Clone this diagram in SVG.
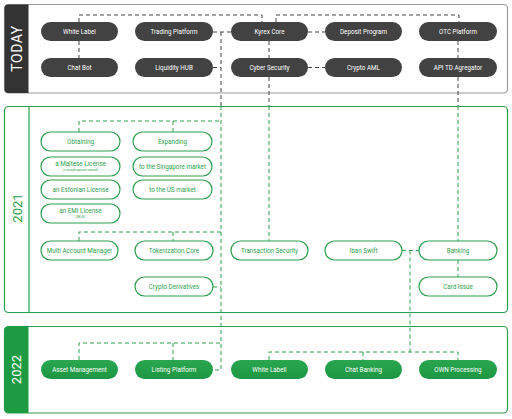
<svg xmlns="http://www.w3.org/2000/svg" width="512" height="419" viewBox="0 0 512 419">
<style>
.lbl{font-family:Roboto,"Liberation Sans",sans-serif;font-size:6.3px;text-anchor:middle;dominant-baseline:central}
.sub{font-size:2.6px}
.dk rect{fill:#424242}
.dk text{fill:#fff}
.gn rect{fill:#fff;stroke:#2e9f4e;stroke-width:1.2}
.gn text{fill:#2e9f4e}
.gf rect{fill:url(#gg)}
.gf text{fill:#fff}
.dg{fill:none;stroke:#444;stroke-width:1;stroke-dasharray:4 3}
.dgr{fill:none;stroke:#2e9f4e;stroke-width:1;stroke-dasharray:4 3}
.big{font-family:Roboto,"Liberation Sans",sans-serif;text-anchor:middle;dominant-baseline:central}
</style>
<defs>
<linearGradient id="gg" x1="0" y1="0" x2="0" y2="1"><stop offset="0" stop-color="#2aa651"/><stop offset="1" stop-color="#1c9641"/></linearGradient>
</defs>
<rect width="512" height="419" fill="#fff"/>
<g id="panels">
<g id="panel-today">
<rect x="4.5" y="4.5" width="503" height="88.5" rx="4" fill="#fff" stroke="#9a9a9a" stroke-width="1.2"/>
<path d="M8.5 4.5 H28.5 V93 H8.5 A4 4 0 0 1 4.5 89 V8.5 A4 4 0 0 1 8.5 4.5 Z" fill="#333"/>
<text class="big" x="16.5" y="48.5" font-size="14" fill="#fff" transform="rotate(-90 16.5 48.5)" letter-spacing="0.5">TODAY</text>
</g>
<g id="panel-2021">
<rect x="4.5" y="106.5" width="503" height="206" rx="4" fill="#fff" stroke="#2e9f4e" stroke-width="1.2"/>
<line x1="29" y1="106.5" x2="29" y2="312.5" stroke="#2e9f4e" stroke-width="1.2"/>
<text class="big" x="17" y="208" font-size="13" fill="#2e9f4e" transform="rotate(-90 17 208)">2021</text>
</g>
<g id="panel-2022">
<rect x="4.5" y="326.5" width="503" height="86.5" rx="4" fill="#fff" stroke="#2e9f4e" stroke-width="1.2"/>
<path d="M8.5 326.5 H28.5 V413 H8.5 A4 4 0 0 1 4.5 409 V330.5 A4 4 0 0 1 8.5 326.5 Z" fill="#1d9b43"/>
<text class="big" x="16.5" y="369.5" font-size="13" fill="#fff" transform="rotate(-90 16.5 369.5)">2022</text>
</g>
</g>
<g id="connectors">
<path class="dg" d="M79 22 V15 H262 V22"/>
<path class="dg" d="M276 22 V15 H459 V22"/>
<path class="dg" d="M79 41 V58"/>
<path class="dg" d="M213 32 H231"/>
<path class="dg" d="M213 67.5 H221"/>
<path class="dg" d="M221 32 V106"/>
<path class="dg" d="M308 32 H325"/>
<path class="dg" d="M308 67.5 H325"/>
<path class="dg" d="M269 41 V58"/>
<path class="dg" d="M269 77 V106"/>
<path class="dg" d="M458 41 V58"/>
<path class="dg" d="M458 77 V106"/>
<path class="dgr" d="M221 106 V370 H213"/>
<path class="dgr" d="M79 132 V121 H221"/>
<path class="dgr" d="M173 121 V132"/>
<path class="dgr" d="M79 241 V232 H221"/>
<path class="dgr" d="M173 232 V241"/>
<path class="dgr" d="M213 287 H221"/>
<path class="dgr" d="M269 106 V241"/>
<path class="dgr" d="M458 106 V241"/>
<path class="dgr" d="M458 260 V277"/>
<path class="dgr" d="M402 250.5 H419"/>
<path class="dgr" d="M410 250.5 V352"/>
<path class="dgr" d="M79 360 V343 H221"/>
<path class="dgr" d="M173 343 V360"/>
<path class="dgr" d="M269 360 V352 H458 V360"/>
<path class="dgr" d="M363 352 V360"/>
</g>
<g id="n-white-label" class="dk"><rect x="41" y="22" width="77" height="19" rx="9.5"/><text class="lbl" x="79.5" y="31.5">White Label</text></g>
<g id="n-trading-platform" class="dk"><rect x="135" y="22" width="78" height="19" rx="9.5"/><text class="lbl" x="174" y="31.5">Trading Platform</text></g>
<g id="n-kyrex-core" class="dk"><rect x="231" y="22" width="77" height="19" rx="9.5"/><text class="lbl" x="269.5" y="31.5">Kyrex Core</text></g>
<g id="n-deposit-program" class="dk"><rect x="325" y="22" width="77" height="19" rx="9.5"/><text class="lbl" x="363.5" y="31.5">Deposit Program</text></g>
<g id="n-otc-platform" class="dk"><rect x="419" y="22" width="78" height="19" rx="9.5"/><text class="lbl" x="458" y="31.5">OTC Platform</text></g>
<g id="n-chat-bot" class="dk"><rect x="41" y="58" width="77" height="19" rx="9.5"/><text class="lbl" x="79.5" y="67.5">Chat Bot</text></g>
<g id="n-liquidity-hub" class="dk"><rect x="135" y="58" width="78" height="19" rx="9.5"/><text class="lbl" x="174" y="67.5">Liquidity HUB</text></g>
<g id="n-cyber-security" class="dk"><rect x="231" y="58" width="77" height="19" rx="9.5"/><text class="lbl" x="269.5" y="67.5">Cyber Security</text></g>
<g id="n-crypto-aml" class="dk"><rect x="325" y="58" width="77" height="19" rx="9.5"/><text class="lbl" x="363.5" y="67.5">Crypto AML</text></g>
<g id="n-api-td" class="dk"><rect x="419" y="58" width="78" height="19" rx="9.5"/><text class="lbl" x="458" y="67.5">API TD Agregator</text></g>
<g id="n-obtaining" class="gn"><rect x="41" y="132" width="79" height="19" rx="9.5"/><text class="lbl" x="80.5" y="141.5">Obtaining</text></g>
<g id="n-maltese" class="gn"><rect x="41" y="157" width="79" height="19" rx="9.5"/><text class="lbl" x="80.5" y="164">a Maltese License</text><text class="lbl sub" x="80.5" y="170">(in principle approval received)</text></g>
<g id="n-estonian" class="gn"><rect x="41" y="180" width="79" height="19" rx="9.5"/><text class="lbl" x="80.5" y="189.5">an Estonian License</text></g>
<g id="n-emi" class="gn"><rect x="41" y="204" width="79" height="19" rx="9.5"/><text class="lbl" x="80.5" y="211">an EMI License</text><text class="lbl sub" x="80.5" y="217">(DBLUK)</text></g>
<g id="n-expanding" class="gn"><rect x="133" y="132" width="79" height="19" rx="9.5"/><text class="lbl" x="172.5" y="141.5">Expanding</text></g>
<g id="n-singapore" class="gn"><rect x="133" y="157" width="79" height="19" rx="9.5"/><text class="lbl" x="172.5" y="166.5">to the Singapore market</text></g>
<g id="n-us" class="gn"><rect x="133" y="180" width="79" height="19" rx="9.5"/><text class="lbl" x="172.5" y="189.5">to the US market</text></g>
<g id="n-multi-account" class="gn"><rect x="41" y="241" width="77" height="19" rx="9.5"/><text class="lbl" x="79.5" y="250.5">Multi Account Manager</text></g>
<g id="n-tokenization" class="gn"><rect x="135" y="241" width="78" height="19" rx="9.5"/><text class="lbl" x="174" y="250.5">Tokenization Core</text></g>
<g id="n-crypto-derivatives" class="gn"><rect x="135" y="277" width="78" height="19" rx="9.5"/><text class="lbl" x="174" y="286.5">Crypto Derivatives</text></g>
<g id="n-transaction-security" class="gn"><rect x="231" y="241" width="77" height="19" rx="9.5"/><text class="lbl" x="269.5" y="250.5">Transaction Security</text></g>
<g id="n-iban-swift" class="gn"><rect x="325" y="241" width="77" height="19" rx="9.5"/><text class="lbl" x="363.5" y="250.5">Iban Swift</text></g>
<g id="n-banking" class="gn"><rect x="419" y="241" width="78" height="19" rx="9.5"/><text class="lbl" x="458" y="250.5">Banking</text></g>
<g id="n-card-issue" class="gn"><rect x="419" y="277" width="78" height="19" rx="9.5"/><text class="lbl" x="458" y="286.5">Card Issue</text></g>
<g id="n-asset-management" class="gf"><rect x="41" y="360" width="77" height="19" rx="9.5"/><text class="lbl" x="79.5" y="369.5">Asset Management</text></g>
<g id="n-listing-platform" class="gf"><rect x="135" y="360" width="78" height="19" rx="9.5"/><text class="lbl" x="174" y="369.5">Listing Platform</text></g>
<g id="n-white-labell" class="gf"><rect x="231" y="360" width="77" height="19" rx="9.5"/><text class="lbl" x="269.5" y="369.5">White Labell</text></g>
<g id="n-chat-banking" class="gf"><rect x="325" y="360" width="77" height="19" rx="9.5"/><text class="lbl" x="363.5" y="369.5">Chat Banking</text></g>
<g id="n-own-processing" class="gf"><rect x="419" y="360" width="78" height="19" rx="9.5"/><text class="lbl" x="458" y="369.5">OWN Processing</text></g>
</svg>
